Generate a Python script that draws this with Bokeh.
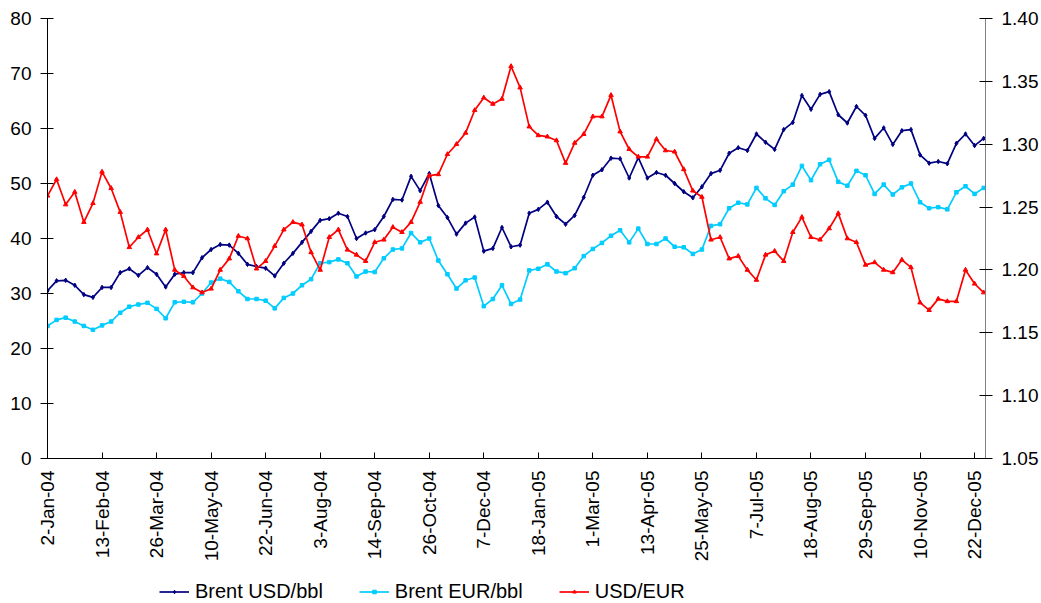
import math
from bokeh.plotting import figure
from bokeh.layouts import column
from bokeh.models import (Range1d, LinearAxis, FixedTicker, PrintfTickFormatter,
                          Legend, LegendItem, ColumnDataSource)
from bokeh.embed import file_html
from bokeh.resources import INLINE

# Category (business-day) axis labels, one every 30 trading days
tick_labels = ["2-Jan-04", "13-Feb-04", "26-Mar-04", "10-May-04", "22-Jun-04", "3-Aug-04",
               "14-Sep-04", "26-Oct-04", "7-Dec-04", "18-Jan-05", "1-Mar-05", "13-Apr-05",
               "25-May-05", "7-Jul-05", "18-Aug-05", "29-Sep-05", "10-Nov-05", "22-Dec-05"]
label_every = 30      # trading days between date labels
n_days = 517          # trading days from 2-Jan-04 to 30-Dec-05
sample_every = 5

series_names = ["Brent USD/bbl", "Brent EUR/bbl", "USD/EUR"]

brent_usd = [30.5, 32.3, 32.4, 31.5, 29.8, 29.3, 31.1, 31.1, 33.8, 34.5,
             33.3, 34.7, 33.5, 31.2, 33.5, 33.8, 33.8, 36.5, 38.0, 38.9,
             38.8, 37.3, 35.3, 34.9, 34.6, 33.2, 35.5, 37.3, 39.3, 41.3,
             43.3, 43.6, 44.6, 44.0, 40.0, 41.0, 41.6, 44.0, 47.1, 47.0,
             51.3, 48.7, 51.8, 46.0, 43.8, 40.8, 42.8, 43.9, 37.7, 38.2,
             42.0, 38.5, 38.8, 44.6, 45.3, 46.6, 44.0, 42.6, 44.2, 47.5,
             51.5, 52.5, 54.6, 54.5, 51.0, 54.7, 51.0, 52.0, 51.5, 50.0,
             48.5, 47.4, 49.4, 51.8, 52.4, 55.5, 56.5, 56.0, 59.0, 57.5,
             56.2, 59.8, 61.1, 66.0, 63.5, 66.2, 66.7, 62.5, 61.0, 64.0,
             62.4, 58.2, 60.1, 57.1, 59.6, 59.8, 55.2, 53.7, 54.0, 53.6,
             57.3, 59.0, 56.9, 58.2]

brent_eur = [24.1, 25.2, 25.6, 24.9, 24.1, 23.4, 24.2, 24.9, 26.5, 27.6,
             28.0, 28.3, 27.2, 25.5, 28.4, 28.5, 28.4, 30.0, 32.0, 32.7,
             32.1, 30.4, 29.0, 29.0, 28.7, 27.3, 29.2, 30.0, 31.5, 32.6,
             35.5, 35.7, 36.2, 35.5, 33.1, 34.0, 33.9, 36.4, 38.0, 38.2,
             41.0, 39.3, 40.0, 36.0, 33.5, 30.9, 32.4, 32.9, 27.7, 29.0,
             31.5, 28.1, 28.9, 34.2, 34.5, 35.3, 34.0, 33.7, 34.6, 36.8,
             38.1, 39.2, 40.5, 41.5, 39.3, 41.8, 39.0, 39.0, 40.0, 38.5,
             38.4, 37.2, 38.0, 42.3, 42.6, 45.5, 46.5, 46.2, 49.2, 47.3,
             46.1, 48.6, 49.8, 53.2, 50.6, 53.5, 54.3, 50.3, 49.6, 52.3,
             51.5, 48.1, 49.8, 48.0, 49.3, 50.0, 46.6, 45.5, 45.7, 45.3,
             48.4, 49.5, 48.1, 49.2]

usd_eur = [1.259, 1.272, 1.252, 1.262, 1.238, 1.253, 1.278, 1.265, 1.246, 1.218,
           1.226, 1.232, 1.213, 1.232, 1.200, 1.195, 1.186, 1.182, 1.185, 1.200,
           1.209, 1.227, 1.225, 1.201, 1.207, 1.219, 1.232, 1.238, 1.236, 1.214,
           1.200, 1.226, 1.232, 1.216, 1.212, 1.207, 1.222, 1.224, 1.234, 1.230,
           1.238, 1.254, 1.275, 1.276, 1.292, 1.300, 1.309, 1.327, 1.337, 1.332,
           1.336, 1.362, 1.345, 1.314, 1.307, 1.306, 1.303, 1.285, 1.301, 1.308,
           1.322, 1.322, 1.339, 1.310, 1.296, 1.290, 1.290, 1.304, 1.295, 1.294,
           1.280, 1.263, 1.258, 1.224, 1.226, 1.209, 1.211, 1.200, 1.192, 1.212,
           1.215, 1.207, 1.230, 1.242, 1.226, 1.224, 1.233, 1.245, 1.225, 1.222,
           1.204, 1.206, 1.200, 1.198, 1.208, 1.202, 1.174, 1.168, 1.177, 1.175,
           1.175, 1.200, 1.189, 1.182]

left_ticks = list(range(0, 81, 10))
right_ticks = [1.05, 1.10, 1.15, 1.20, 1.25, 1.30, 1.35, 1.40]

day = list(range(0, sample_every * len(brent_usd), sample_every))
src = ColumnDataSource(dict(day=day, usd=brent_usd, eur=brent_eur, fx=usd_eur))

FONT = "Liberation Sans"
NAVY, CYAN, RED = "#000080", "#00CCFF", "#FF0000"
LINE_W = 1.7
STYLES = [dict(color=NAVY, marker="diamond", size=4.5),
          dict(color=CYAN, marker="square", size=3.5),
          dict(color=RED, marker="triangle", size=4.5)]

p = figure(width=1041, height=575, output_backend="svg", toolbar_location=None,
           x_range=Range1d(0, n_days - 1), y_range=Range1d(0, 80),
           min_border_left=47, min_border_right=55, min_border_top=18,
           min_border_bottom=117, outline_line_color=None,
           background_fill_color="white", border_fill_color="white")
p.xgrid.visible = False
p.ygrid.visible = False
p.extra_y_ranges = {"fx": Range1d(1.05, 1.40)}

def style_axis(ax):
    ax.major_label_text_font = FONT
    ax.major_label_text_font_size = "19px"
    ax.major_label_text_color = "black"
    ax.axis_line_color = "black"
    ax.major_tick_line_color = "black"
    ax.minor_tick_line_color = None
    ax.axis_line_width = 1

xa = p.xaxis[0]
style_axis(xa)
xa.ticker = FixedTicker(ticks=[i * label_every for i in range(len(tick_labels))])
xa.major_label_overrides = {i * label_every: t for i, t in enumerate(tick_labels)}
xa.major_label_orientation = math.pi / 2
xa.major_tick_in = 6
xa.major_tick_out = 0
xa.major_label_standoff = 12

ya = p.yaxis[0]
style_axis(ya)
ya.ticker = FixedTicker(ticks=left_ticks)
ya.major_tick_in = 6
ya.major_tick_out = 7
ya.major_label_standoff = 9

ra = LinearAxis(y_range_name="fx", ticker=FixedTicker(ticks=right_ticks),
                formatter=PrintfTickFormatter(format="%.2f"))
style_axis(ra)
ra.axis_line_color = "#808080"
ra.major_tick_in = 6
ra.major_tick_out = 7
ra.major_label_standoff = 9
p.add_layout(ra, "right")

cols = ["usd", "eur", "fx"]
for col, st in zip(cols, STYLES):
    kw = {"y_range_name": "fx"} if col == "fx" else {}
    p.line("day", col, source=src, color=st["color"], line_width=LINE_W, **kw)
    p.scatter("day", col, source=src, marker=st["marker"], size=st["size"],
              color=st["color"], **kw)

# Legend strip underneath the chart (swatch renderers hold a single NaN, nothing plotted)
lg = figure(width=1041, height=28, output_backend="svg", toolbar_location=None,
            x_range=Range1d(0, 1), y_range=Range1d(0, 1),
            min_border_left=0, min_border_right=0, min_border_top=0, min_border_bottom=0,
            outline_line_color=None, background_fill_color="white",
            border_fill_color="white")
lg.axis.visible = False
lg.grid.visible = False
nan = float("nan")
items = []
for name, st in zip(series_names, STYLES):
    r1 = lg.line(x=[nan, nan], y=[nan, nan], color=st["color"], line_width=LINE_W)
    r2 = lg.scatter(x=[nan], y=[nan], marker=st["marker"], size=st["size"], color=st["color"])
    items.append(LegendItem(label=name, renderers=[r1, r2]))
legend = Legend(items=items, orientation="horizontal", location=(112, 0),
                label_text_font=FONT, label_text_font_size="20px",
                label_text_color="black", label_height=23,
                border_line_color=None, background_fill_alpha=0,
                padding=0, margin=0, spacing=36, glyph_width=30, glyph_height=9,
                label_standoff=6)
lg.add_layout(legend, "center")

layout = column(p, lg, spacing=0)
open("out.html", "w").write(file_html(layout, INLINE))
